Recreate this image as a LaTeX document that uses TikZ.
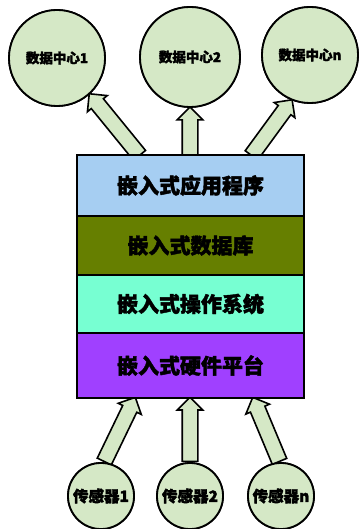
\documentclass[tikz,border=0pt]{standalone}
\usepackage{fontspec}
\newfontfamily\cjk{Noto Sans CJK SC}[BoldFeatures={FakeBold=2}]
\usetikzlibrary{shapes.arrows,calc}
\definecolor{cgreen}{HTML}{D5E8C6}
\definecolor{agreen}{HTML}{D5E8C6}
\definecolor{lblue}{HTML}{A6CEF2}
\definecolor{olive}{HTML}{667F00}
\definecolor{aqua}{HTML}{77FFD2}
\definecolor{purp}{HTML}{A040FF}
\tikzset{
  circ/.style={circle, draw=black, fill=cgreen, line width=1.8pt, inner sep=0pt},
  topfont/.style={font=\cjk\bfseries\fontsize{13.5}{15}\selectfont},
  botfont/.style={font=\cjk\bfseries\fontsize{15.5}{17}\selectfont},
  layer/.style={rectangle, draw=black, line width=2.4pt, minimum width=227pt, inner sep=0pt, font=\cjk\bfseries\fontsize{21}{23}\selectfont},
  fatarrow/.style={single arrow, draw=black, fill=agreen, line width=1.6pt,
    inner xsep=0pt, inner ysep=7pt, text height=0pt, text depth=0pt,
    single arrow head extend=5pt, single arrow tip angle=90},
  fat/.style={to path={let \p1=($(\tikztotarget)-(\tikztostart)$), \n1={veclen(\x1,\y1)}, \n2={atan2(\y1,\x1)} in
    node[fatarrow, minimum height=\n1, rotate=\n2, anchor=tail] at (\tikztostart) {}}}
}
\begin{document}
\begin{tikzpicture}[x=1pt,y=-1pt]
\path[use as bounding box, fill=white] (0,0) rectangle (361,529);
% circles
\node[circ, minimum size=96pt, topfont] (c1) at (57,58) {数据中心1};
\node[circ, minimum size=100pt, topfont] (c2) at (190,57) {数据中心2};
\node[circ, minimum size=96pt, topfont] (c3) at (310,55) {数据中心n};
\node[circ, minimum size=66pt, botfont] (s1) at (101,496) {传感器1};
\node[circ, minimum size=66pt, botfont] (s2) at (190,496) {传感器2};
\node[circ, minimum size=66pt, botfont] (s3) at (281,496) {传感器n};
% arrow anchors on the box
\coordinate (t1) at (140,156);
\coordinate (t2) at (190,156);
\coordinate (t3) at (251,156);
\coordinate (b1) at (135,398);
\coordinate (b2) at (190,398);
\coordinate (b3) at (253,398);
% arrows
\path (t1) to[fat] (c1.-48);
\path (t2) to[fat] (c2.south);
\path (t3) to[fat] (c3.-112);
\path (s1.85) to[fat] (b1);
\path (s2.north) to[fat] (b2);
\path (s3.92) to[fat] (b3);
% layers
\node[layer, fill=lblue, minimum height=61pt] (L1) at (190.5,185.5) {嵌入式应用程序};
\node[layer, fill=olive, minimum height=59pt] (L2) at (190.5,245.5) {嵌入式数据库};
\node[layer, fill=aqua, minimum height=58pt] (L3) at (190.5,304) {嵌入式操作系统};
\node[layer, fill=purp, minimum height=65pt] (L4) at (190.5,365.5) {嵌入式硬件平台};
% circles again, on top of the arrows
\node[circ, minimum size=96pt, topfont] at (c1) {数据中心1};
\node[circ, minimum size=100pt, topfont] at (c2) {数据中心2};
\node[circ, minimum size=96pt, topfont] at (c3) {数据中心n};
\node[circ, minimum size=66pt, botfont] at (s1) {传感器1};
\node[circ, minimum size=66pt, botfont] at (s2) {传感器2};
\node[circ, minimum size=66pt, botfont] at (s3) {传感器n};
\end{tikzpicture}
\end{document}
